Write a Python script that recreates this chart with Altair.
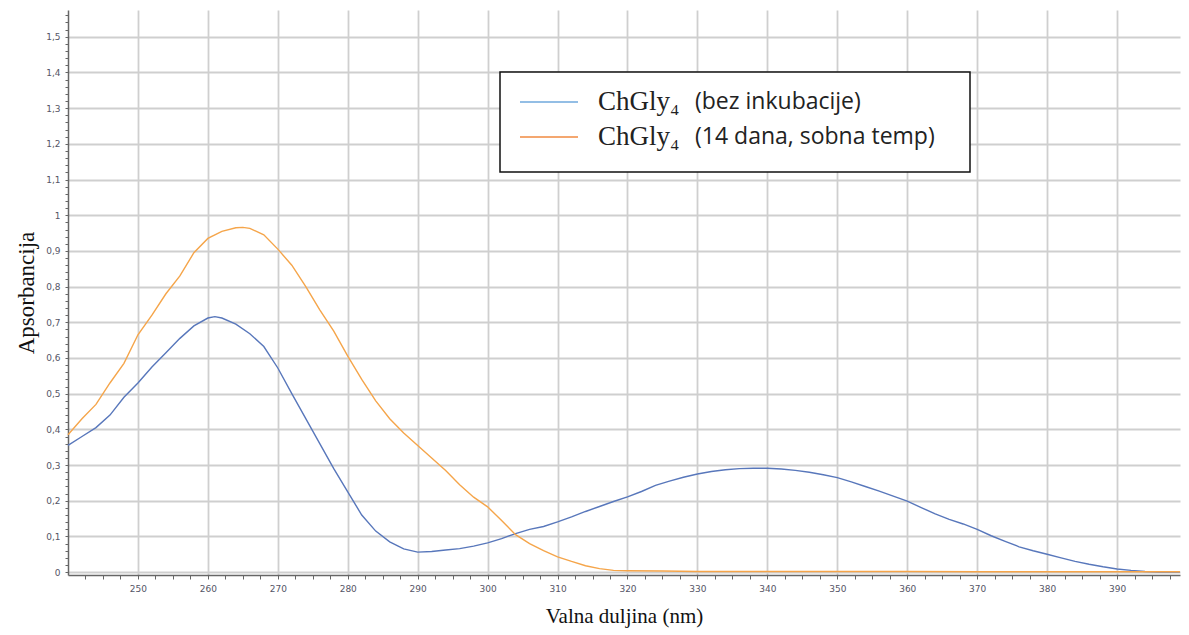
import altair as alt
import pandas as pd

# ---- data ----
series_names = ["ChGly₄ (bez inkubacije)", "ChGly₄ (14 dana, sobna temp)"]

blue_nm = [240, 242, 244, 246, 248, 250, 252, 254, 256, 258, 260, 261, 262, 264, 266, 268,
           270, 272, 274, 276, 278, 280, 282, 284, 286, 288, 290, 292, 294, 296, 298, 300,
           302, 304, 306, 308, 310, 312, 314, 316, 318, 320, 322, 324, 326, 328, 330, 332,
           334, 336, 338, 340, 342, 344, 346, 348, 350, 352, 354, 356, 358, 360, 362, 364,
           366, 368, 370, 372, 374, 376, 378, 380, 382, 384, 386, 388, 390, 392, 394, 396,
           398, 399]
blue_abs = [0.355, 0.38, 0.405, 0.44, 0.49, 0.53, 0.575, 0.615, 0.655, 0.69, 0.712, 0.716,
            0.712, 0.695, 0.668, 0.632, 0.572, 0.5, 0.43, 0.36, 0.29, 0.225, 0.16, 0.115,
            0.085, 0.065, 0.056, 0.058, 0.062, 0.066, 0.073, 0.082, 0.094, 0.108, 0.12,
            0.128, 0.141, 0.155, 0.17, 0.184, 0.198, 0.211, 0.226, 0.243, 0.255, 0.266,
            0.275, 0.282, 0.287, 0.29, 0.291, 0.291, 0.289, 0.285, 0.28, 0.273, 0.265,
            0.253, 0.24, 0.227, 0.213, 0.199, 0.181, 0.163, 0.148, 0.135, 0.12, 0.102,
            0.086, 0.071, 0.06, 0.05, 0.04, 0.03, 0.022, 0.015, 0.009, 0.005, 0.002, 0.0,
            0.0, 0.0]

orange_nm = [240, 242, 244, 246, 248, 250, 252, 254, 256, 258, 260, 262, 264, 265, 266, 268,
             270, 272, 274, 276, 278, 280, 282, 284, 286, 288, 290, 292, 294, 296, 298, 300,
             302, 304, 306, 308, 310, 312, 314, 316, 318, 320, 325, 330, 340, 350, 360, 370,
             380, 390, 399]
orange_abs = [0.385, 0.43, 0.47, 0.53, 0.585, 0.665, 0.72, 0.78, 0.83, 0.895, 0.935, 0.955,
              0.965, 0.966, 0.963, 0.945, 0.905, 0.86, 0.8, 0.735, 0.675, 0.605, 0.54, 0.48,
              0.43, 0.39, 0.355, 0.32, 0.285, 0.245, 0.21, 0.183, 0.145, 0.105, 0.08, 0.06,
              0.043, 0.03, 0.018, 0.01, 0.005, 0.004, 0.003, 0.002, 0.002, 0.002, 0.002,
              0.001, 0.001, 0.001, 0.001]

# tick positions: labelled every 10 nm / 0.1, small ticks every 2.5 nm / 0.02
x_ticks = [242.5 + 2.5 * i for i in range(63)]
y_ticks = [round(0.02 * i, 2) for i in range(79)]

legend_prefix = "ChGly₄"
legend_suffix = ["(bez inkubacije)", "(14 dana, sobna temp)"]

curve_colors = ["#5877bb", "#f5a54a"]
legend_colors = ["#6fa8dc", "#f08a40"]

df = pd.concat([
    pd.DataFrame({"nm": blue_nm, "A": blue_abs, "serija": series_names[0]}),
    pd.DataFrame({"nm": orange_nm, "A": orange_abs, "serija": series_names[1]}),
])

W, H = 1112, 565
xscale = alt.Scale(domain=[240, 399], nice=False, zero=False)
yscale = alt.Scale(domain=[-0.008, 1.575], nice=False, zero=False)

lbl_color = "#555566"
x_major_test = "datum.value % 10 === 0"
y_major_test = "abs(datum.value * 10 - round(datum.value * 10)) < 0.001"

lines = alt.Chart(df).mark_line(strokeWidth=1.4).encode(
    x=alt.X("nm:Q", scale=xscale,
            axis=alt.Axis(values=x_ticks, orient="bottom", title="Valna duljina (nm)",
                          titleFont="Liberation Serif", titleFontSize=21,
                          titleFontWeight="normal", titleColor="#111",
                          titlePadding=12,
                          labelExpr=f"{x_major_test} ? format(datum.value, 'd') : ''",
                          labelFont="DejaVu Sans", labelFontSize=9, labelColor=lbl_color,
                          labelPadding=5, tickSize=4, tickColor="#666", tickWidth=1,
                          domain=True, domainColor="#666", domainWidth=1.5,
                          grid=True, gridColor="#cfcfcf", gridWidth=1.8,
                          gridOpacity={"condition": {"test": x_major_test, "value": 1},
                                       "value": 0})),
    y=alt.Y("A:Q", scale=yscale,
            axis=alt.Axis(values=y_ticks, orient="left", title="Apsorbancija",
                          titleFont="Liberation Serif", titleFontSize=23,
                          titleFontWeight="normal", titleColor="#111", titlePadding=7,
                          labelExpr=f"{y_major_test} ? replace(format(datum.value, '~g'), '.', ',') : ''",
                          labelFont="DejaVu Sans", labelFontSize=9, labelColor=lbl_color,
                          labelPadding=5, tickSize=3, tickColor="#666", tickWidth=1,
                          domain=True, domainColor="#666", domainWidth=1.5,
                          grid=True, gridColor="#cfcfcf", gridWidth=1.8,
                          gridOpacity={"condition": {"test": y_major_test, "value": 1},
                                       "value": 0})),
    color=alt.Color("serija:N", scale=alt.Scale(domain=series_names, range=curve_colors),
                    legend=None),
    detail="serija:N",
)

one = pd.DataFrame({"k": [0]})
box = alt.Chart(one).mark_rect(fill="white", stroke="#111", strokeWidth=1.5).encode(
    x=alt.value(432), x2=alt.value(902), y=alt.value(62), y2=alt.value(162))

leg_df = pd.DataFrame({
    "serija": series_names,
    "suffix": legend_suffix,
    "prefix": [legend_prefix, legend_prefix],
    "ypos": [92, 127],
})

leg_lines = alt.Chart(leg_df).mark_rule(strokeWidth=1.6).encode(
    x=alt.value(452), x2=alt.value(510),
    y=alt.Y("ypos:Q", scale=None),
    color=alt.Color("serija:N", scale=alt.Scale(domain=series_names, range=legend_colors),
                    legend=None),
)

leg_prefix = alt.Chart(leg_df).mark_text(
    align="left", baseline="middle", font="Liberation Serif", fontSize=27, color="#222"
).encode(x=alt.value(530), y=alt.Y("ypos:Q", scale=None), text="prefix:N")

leg_suffix = alt.Chart(leg_df).mark_text(
    align="left", baseline="middle", font="Open Sans", fontSize=23, color="#222"
).encode(x=alt.value(627), y=alt.Y("ypos:Q", scale=None), text="suffix:N")

chart = alt.layer(lines, box, leg_lines, leg_prefix, leg_suffix).resolve_scale(
    color="independent"
).properties(
    width=W, height=H,
    autosize=alt.AutoSizeParams(type="none"),
    padding={"left": 60, "top": 2, "right": 1, "bottom": 58},
    background="white",
).configure_view(strokeWidth=0)

chart.save("out.html", embed_options={"renderer": "svg", "actions": False})
